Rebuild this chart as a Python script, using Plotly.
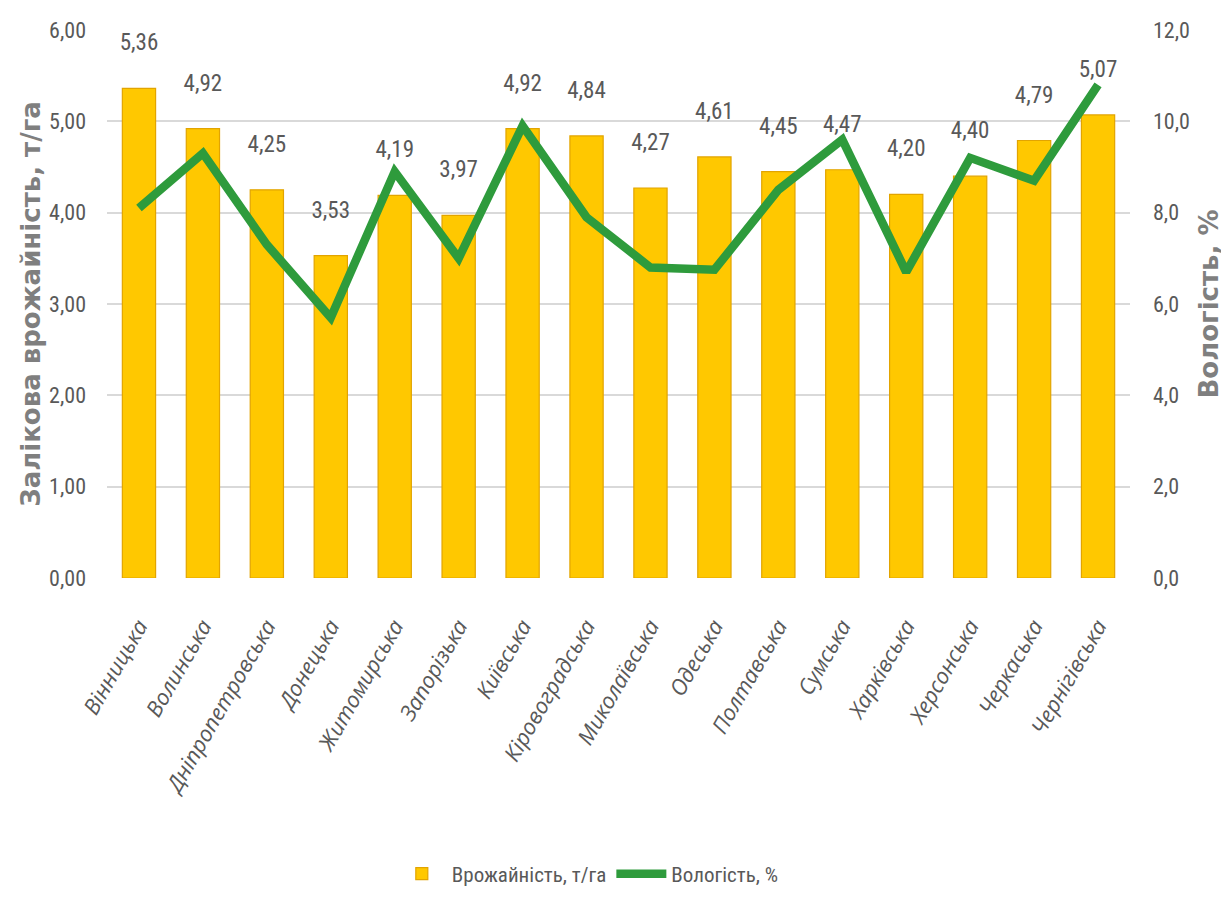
import plotly.graph_objects as go

regions = ['Вінницька', 'Волинська', 'Дніпропетровська', 'Донецька', 'Житомирська',
           'Запорізька', 'Київська', 'Кіровоградська', 'Миколаївська', 'Одеська',
           'Полтавська', 'Сумська', 'Харківська', 'Херсонська', 'Черкаська', 'Чернігівська']
yields = [5.36, 4.92, 4.25, 3.53, 4.19, 3.97, 4.92, 4.84, 4.27, 4.61, 4.45, 4.47, 4.20, 4.40, 4.79, 5.07]
moisture = [8.1, 9.3, 7.3, 5.7, 8.9, 7.0, 9.9, 7.9, 6.8, 6.75, 8.5, 9.6, 6.7, 9.2, 8.7, 10.8]

FONT = "Liberation Sans Narrow, Roboto Condensed, Roboto, sans-serif"
GREY = "#595959"
TITLE_FONT = dict(family='DejaVu Sans, sans-serif', size=26, color='#7F7F7F')

fig = go.Figure()

fig.add_trace(go.Bar(
    x=regions, y=yields,
    name='Врожайність, т/га',
    marker=dict(color='#FFC800', line=dict(color='#E2A400', width=1.2)),
    width=0.52,
    yaxis='y',
))

# value labels (invisible markers push the text up above the bars)
fig.add_trace(go.Scatter(
    x=regions, y=yields,
    mode='markers+text',
    text=[f"{v:.2f}".replace('.', ',') for v in yields],
    textposition='top center',
    textfont=dict(family=FONT, size=23, color=GREY),
    marker=dict(size=50, color='rgba(0,0,0,0)'),
    showlegend=False, hoverinfo='skip',
    yaxis='y',
))

fig.add_trace(go.Scatter(
    x=regions, y=moisture,
    name='Вологість, %',
    mode='lines',
    line=dict(color='#2E9B3C', width=8.5),
    yaxis='y2',
))

fig.update_layout(
    width=1229, height=897,
    paper_bgcolor='white', plot_bgcolor='white',
    separators=', ',
    margin=dict(l=99, r=107, t=22, b=326),
    font=dict(family=FONT, color=GREY, size=18),
    xaxis=dict(
        automargin=False,
        range=[-0.5, len(regions) - 0.5],
        tickvals=regions,
        ticktext=[f"<i>{r}</i>" for r in regions],
        tickangle=-60,
        tickfont=dict(family='Open Sans, sans-serif', size=22, color=GREY),
        ticklabelstandoff=30,
        showgrid=False, showline=False, ticks='',
    ),
    yaxis=dict(
        automargin=False,
        range=[0, 6], dtick=1, tickformat='.2f',
        gridcolor='#D9D9D9', gridwidth=1.5, zeroline=False,
        tickfont=dict(family=FONT, size=22, color=GREY),
        title=dict(text='<b>Залікова врожайність, т/га</b>', font=TITLE_FONT, standoff=0),
        ticklabelstandoff=20,
    ),
    yaxis2=dict(
        automargin=False,
        range=[0, 12], dtick=2, tickformat='.1f',
        overlaying='y', side='right', showgrid=False, zeroline=False,
        tickfont=dict(family=FONT, size=22, color=GREY),
        title=dict(text='<b>Вологість, %</b>', font=TITLE_FONT, standoff=10),
        ticklabelstandoff=22,
    ),
    legend=dict(
        orientation='h', x=0.47, xanchor='center', y=-0.5, yanchor='top',
        font=dict(family=FONT, size=21, color=GREY),
        itemwidth=50,
    ),
)

fig.write_html("out.html")
